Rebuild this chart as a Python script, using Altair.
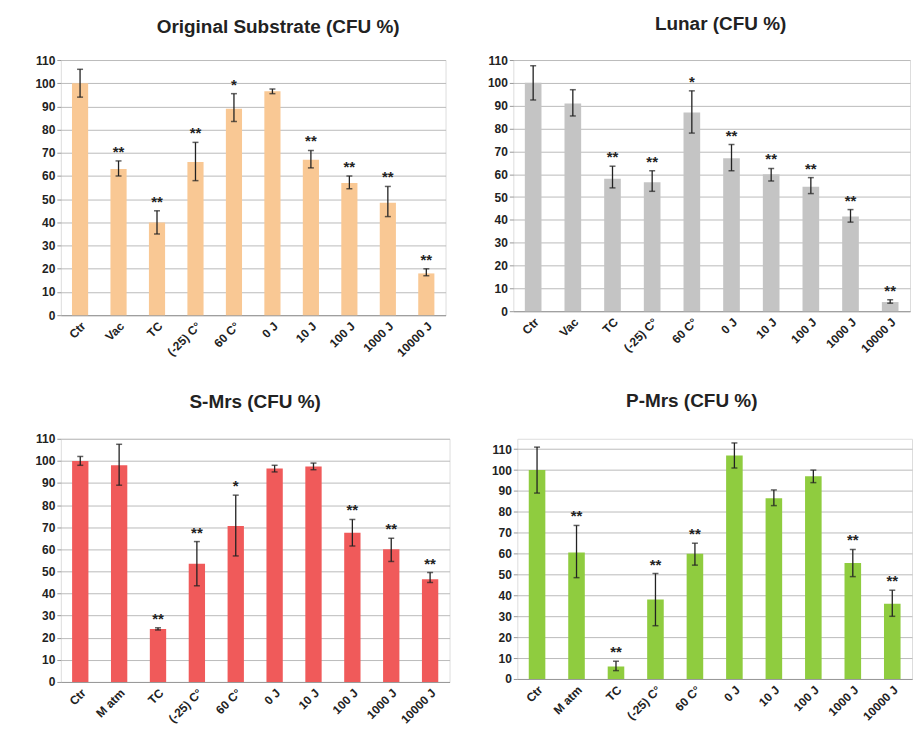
import altair as alt
import pandas as pd

# ---- data ----
cats_a = ["Ctr", "Vac", "TC", "(-25) C°", "60 C°", "0 J", "10 J", "100 J", "1000 J", "10000 J"]
cats_b = ["Ctr", "M atm", "TC", "(-25) C°", "60 C°", "0 J", "10 J", "100 J", "1000 J", "10000 J"]

orig_val = [100, 63, 40, 66, 89, 96.5, 67, 57, 48.5, 18]
orig_lo = [94, 60, 35, 58, 83.5, 95.5, 63.5, 54.5, 42.5, 17]
orig_hi = [106, 66.5, 45, 74.5, 95.5, 97.5, 71, 60, 55.5, 20]
orig_sig = ["", "**", "**", "**", "*", "", "**", "**", "**", "**"]

lunar_val = [100, 91, 58, 56.5, 87, 67, 60, 54.5, 41.5, 4]
lunar_lo = [92.5, 85.5, 54, 52.5, 78, 61.5, 57, 51.5, 39, 3.5]
lunar_hi = [107.5, 97, 63.5, 61.5, 96.5, 73, 62.5, 58.5, 44.5, 5]
lunar_sig = ["", "", "**", "**", "*", "**", "**", "**", "**", "**"]

smrs_val = [100, 98, 24, 53.5, 70.5, 96.5, 97.5, 67.5, 60, 46.5]
smrs_lo = [98, 89, 23.5, 43.5, 57, 95, 96, 61.5, 54.5, 45]
smrs_hi = [102, 107.5, 24.5, 63.5, 84.5, 98, 99, 73.5, 65, 49.5]
smrs_sig = ["", "", "**", "**", "*", "", "", "**", "**", "**"]

pmrs_val = [100, 60.5, 6, 38, 60, 107, 86.5, 97, 55.5, 36]
pmrs_lo = [89, 48.5, 4, 25.5, 54.5, 101, 83, 94, 49, 30]
pmrs_hi = [111, 73.5, 8.5, 50.5, 65, 113, 90.5, 100, 62, 42.5]
pmrs_sig = ["", "**", "**", "**", "**", "", "", "", "**", "**"]

FONT = "Liberation Sans"
TICKS = list(range(0, 111, 10))


def panel(title, cats, val, lo, hi, sig, color, ymax, w, h, tdx):
    df = pd.DataFrame({"cat": cats, "val": val, "lo": lo, "hi": hi, "sig": sig})
    xaxis = alt.Axis(labelAngle=-45, labelFontWeight="bold", labelFontSize=12,
                     labelFont=FONT, labelColor="#222", ticks=False,
                     domainColor="#999", labelPadding=5)
    yaxis = alt.Axis(values=TICKS, labelFontWeight="bold", labelOverlap=False,
                     labelFontSize=12, labelFont=FONT, labelColor="#222",
                     gridColor="#bbbbbb", gridWidth=1, domain=False,
                     tickColor="#999", tickSize=4)
    yscale = alt.Scale(domain=[0, ymax], nice=False)

    def X():
        return alt.X("cat:N", sort=cats, title=None,
                     scale=alt.Scale(paddingInner=0.58, paddingOuter=0.29), axis=xaxis)

    def Y(f):
        return alt.Y(f"{f}:Q", title=None, scale=yscale, axis=yaxis)

    base = alt.Chart(df)
    bars = base.mark_bar(color=color).encode(x=X(), y=Y("val"))
    err = base.mark_rule(color="#222", strokeWidth=1.3).encode(
        x=X(), y=Y("lo"), y2="hi:Q")
    cap_hi = base.mark_tick(color="#222", thickness=1.5, size=6).encode(x=X(), y=Y("hi"))
    cap_lo = base.mark_tick(color="#222", thickness=1.5, size=6).encode(x=X(), y=Y("lo"))
    stars = base.mark_text(color="#222", fontSize=15, fontWeight="bold", font=FONT,
                           baseline="bottom", dy=-1).encode(
        x=X(), y=Y("hi"), text="sig:N")
    return alt.layer(bars, err, cap_hi, cap_lo, stars).properties(
        width=w, height=h,
        title=alt.TitleParams(title, fontSize=19, fontWeight="bold", font=FONT,
                              color="#222", offset=16, dx=tdx))


p1 = panel("Original Substrate (CFU %)", cats_a, orig_val, orig_lo, orig_hi, orig_sig,
           "#F9C894", 110, 386, 256, 25)
p2 = panel("Lunar (CFU %)", cats_a, lunar_val, lunar_lo, lunar_hi, lunar_sig,
           "#C4C4C4", 110, 398, 252, 9)
p3 = panel("S-Mrs (CFU %)", cats_b, smrs_val, smrs_lo, smrs_hi, smrs_sig,
           "#F05A5A", 110, 390, 244, 0)
p4 = panel("P-Mrs (CFU %)", cats_b, pmrs_val, pmrs_lo, pmrs_hi, pmrs_sig,
           "#8FCC3F", 115, 396, 241, -23)

chart = alt.vconcat(
    alt.hconcat(p1, p2, spacing=40),
    alt.hconcat(p3, p4, spacing=40),
    spacing=32,
).configure_view(stroke="#aaaaaa", strokeWidth=1).configure(
    background="white", padding={"left": 26, "top": 5, "right": 2, "bottom": 2})

chart.save("out.html", embed_options={"renderer": "svg", "actions": False})
